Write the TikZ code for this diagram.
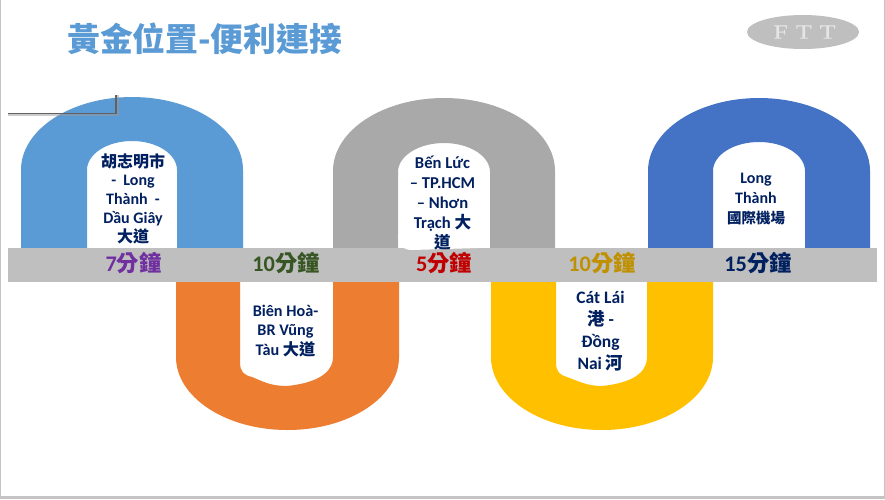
\documentclass[tikz,border=0pt]{standalone}
\usetikzlibrary{shapes.geometric}
\usepackage{fontspec}
\setmainfont{Carlito}
\newfontfamily\cjk{Noto Sans CJK TC}
\newfontfamily\logofont[FakeStretch=1.3,FakeBold=0.5]{Liberation Serif}
\definecolor{navy}{HTML}{002060}
\definecolor{titleblue}{HTML}{5B9BD5}
\definecolor{bandgrey}{HTML}{BFBFBF}
\definecolor{archgrey}{HTML}{A9A9A9}
\definecolor{archblue}{HTML}{4472C4}
\definecolor{archorange}{HTML}{ED7D31}
\definecolor{archyellow}{HTML}{FFC000}
\definecolor{framegrey}{HTML}{C4C4C4}
\definecolor{tpurple}{HTML}{7030A0}
\definecolor{tgreen}{HTML}{375623}
\definecolor{tred}{HTML}{C00000}
\definecolor{tgold}{HTML}{BF9000}
\newcommand{\cj}[1]{{\cjk\bfseries #1}}
\tikzset{
  bandbox/.style={fill=bandgrey,draw=none},
  place/.style 2 args={font=\bfseries\fontsize{#1}{#2}\selectfont,text=navy,align=center,inner sep=0pt},
  timelabel/.style={font=\bfseries\fontsize{22.3}{24}\selectfont,inner sep=0pt},
}
\begin{document}
\begin{tikzpicture}[x=1pt,y=1pt]
\useasboundingbox (0,0) rectangle (885,-499);
\fill[white] (0,0) rectangle (885,-499);
% frame
\fill[framegrey] (0,0) rectangle (1.2,-499);
\fill[framegrey] (883.8,0) rectangle (885,-499);
\fill[framegrey] (0,-496) rectangle (885,-499);
% arches up
\fill[titleblue] (21,-248) -- (21,-170) arc[start angle=180,end angle=0,x radius=111pt,y radius=73pt] -- (243,-248) -- (177,-248) -- (177,-170) arc[start angle=0,end angle=180,x radius=45pt,y radius=29pt] -- (87,-248) -- cycle;
\fill[archgrey] (333,-248) -- (333,-171) arc[start angle=180,end angle=0,x radius=111pt,y radius=73pt] -- (555,-248) -- (490,-248) -- (490,-172) arc[start angle=0,end angle=180,x radius=46pt,y radius=29pt] -- (398,-248) -- cycle;
\fill[archblue] (648,-248) -- (648,-171) arc[start angle=180,end angle=0,x radius=111pt,y radius=73pt] -- (870,-248) -- (805,-248) -- (805,-171) arc[start angle=0,end angle=180,x radius=46pt,y radius=29pt] -- (713,-248) -- cycle;
% arches down
\fill[archorange] (176,-282) -- (176,-357) arc[start angle=180,end angle=360,x radius=111.5pt,y radius=73pt] -- (399,-282) -- (333,-282) -- (333,-357) .. controls (333,-368) and (325,-382) .. (287,-386) .. controls (270,-386) and (262,-381) .. (252,-377) .. controls (244,-375) and (240,-372) .. (240,-362) -- (240,-282) -- cycle;
\fill[archyellow] (491,-282) -- (491,-357) arc[start angle=180,end angle=360,x radius=111pt,y radius=73pt] -- (713,-282) -- (647,-282) -- (647,-357) .. controls (647,-368) and (640,-382) .. (602,-386) .. controls (587,-386) and (578,-381) .. (567,-377) .. controls (560,-375) and (556,-372) .. (556,-362) -- (556,-282) -- cycle;
% band
\fill[bandbox] (8,-248) rectangle (877,-282);
% white patch of the grey arch reaching into the band
\fill[white] (398,-235) .. controls (398,-244) and (402,-250) .. (412,-250) -- (478,-248) .. controls (486,-248) and (490,-243) .. (490,-235) -- cycle;
% stray shadow line
\draw[black!40,line width=3pt,opacity=.5] (8,-114.5) -- (117,-114.5) -- (117,-95);
\draw[black!62,line width=1.2pt] (8,-113.5) -- (116,-113.5) -- (116,-95);
% logo
\node[fill=bandgrey,draw=none,ellipse,minimum width=112pt,minimum height=34pt,inner sep=0pt] (logo) at (803,-32) {};
\node[font=\logofont\fontsize{20}{20}\selectfont,text=black!10,inner sep=0pt] (logotext) at (804.5,-32) {F\hspace{8pt}T\hspace{8pt}T};
% title
\node[anchor=west,inner sep=0pt,text=titleblue,font=\cjk\bfseries\fontsize{32.8}{35}\selectfont] (title) at (67,-38.5) {黃金位置-便利連接};
% place labels
\node[place={16}{18.7}] (p1) at (133,-198.5) {\cj{胡志明市}\\- \ Long\\Thành \ -\\Dầu Giây\\\cj{大道}};
\node[place={16.2}{19.8}] (p2) at (285.5,-331) {Biên Hoà-\\BR Vũng\\Tàu \cj{大道}};
\node[place={16.6}{20}] (p3) at (442.5,-203.5) {Bến Lức\\– TP.HCM\\– Nhơn\\Trạch \cj{大}\\\cj{道}};
\node[place={17.5}{22}] (p4) at (600.5,-331.5) {Cát Lái\\\cj{港} -\\Đồng\\Nai \cj{河}};
\node[place={16}{19.6}] (p5) at (756,-199) {Long\\Thành\\{\fontsize{14.5}{15}\selectfont\cj{國際機場}}};
% travel times
\node[timelabel,text=tpurple] (t1) at (133.5,-263.5) {7\cj{分鐘}};
\node[timelabel,text=tgreen] (t2) at (286,-263.5) {10\cj{分鐘}};
\node[timelabel,text=tred] (t3) at (444,-263.5) {5\cj{分鐘}};
\node[timelabel,text=tgold] (t4) at (602,-263.5) {10\cj{分鐘}};
\node[timelabel,text=navy] (t5) at (758,-263.5) {15\cj{分鐘}};
\end{tikzpicture}
\end{document}
